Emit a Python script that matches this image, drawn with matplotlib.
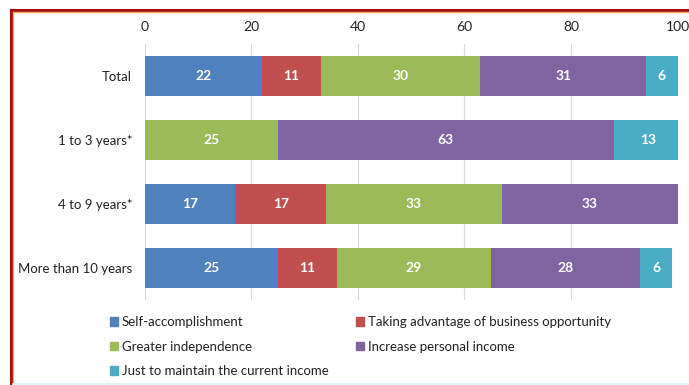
import matplotlib.pyplot as plt
from matplotlib.patches import Patch
from matplotlib.lines import Line2D

plt.rcParams['font.family'] = ['Lato', 'DejaVu Sans']

groups = ["Total", "1 to 3 years*", "4 to 9 years*", "More than 10 years"]
series_names = [
    "Self-accomplishment",
    "Taking advantage of business opportunity",
    "Greater independence",
    "Increase personal income",
    "Just to maintain the current income",
]
self_accomplishment = [22, 0, 17, 25]
business_opportunity = [11, 0, 17, 11]
greater_independence = [30, 25, 33, 29]
personal_income = [31, 63, 33, 28]
maintain_income = [6, 13, 0, 6]
x_ticks = [0, 20, 40, 60, 80, 100]

series = [self_accomplishment, business_opportunity, greater_independence,
          personal_income, maintain_income]
colors = ["#4F81BD", "#C0504D", "#9BBB59", "#8064A2", "#4BACC6"]

fig = plt.figure(figsize=(6.89, 3.85), dpi=100)
ax = fig.add_axes([0.210, 0.221, 0.7736, 0.665])

y = list(range(len(groups)))
left = [0.0] * len(groups)
for vals, col, name in zip(series, colors, series_names):
    bars = ax.barh(y, vals, left=left, height=0.62, color=col, label=name, zorder=3)
    for b, v in zip(bars, vals):
        if v > 0:
            ax.text(b.get_x() + b.get_width() / 2, b.get_y() + b.get_height() / 2,
                    f"{v}", ha="center", va="center", color="white",
                    fontsize=10, fontweight="bold", zorder=4)
    left = [l + v for l, v in zip(left, vals)]

ax.set_xlim(0, 100)
ax.set_ylim(len(groups) - 0.5, -0.5)
ax.set_yticks(y)
ax.set_yticklabels(groups, fontsize=9.5, color="#222222")
ax.set_xticks(x_ticks)
ax.xaxis.tick_top()
ax.tick_params(axis="x", length=0, labelsize=10, labelcolor="#222222", pad=8)
ax.tick_params(axis="y", length=0, pad=9)
ax.grid(axis="x", color="#D9D9D9", linewidth=0.8, zorder=0)
for s in ax.spines.values():
    s.set_visible(False)

handles = [Patch(color=c) for c in colors]
order = [0, 2, 4, 1, 3]
fig.legend([handles[i] for i in order], [series_names[i] for i in order],
           ncol=2, loc="upper left", bbox_to_anchor=(0.142, 0.21),
           frameon=False, fontsize=9.5, handlelength=0.6, handleheight=0.6,
           handletextpad=0.3, columnspacing=2.1, labelspacing=0.95,
           labelcolor="#222222")

# frame around the figure
W, H = 689.0, 385.0
fig.add_artist(Line2D([11 / W, 1], [1 - 9.5 / H, 1 - 9.5 / H], color="#A50F0F", lw=2.2,
                      transform=fig.transFigure))
fig.add_artist(Line2D([13 / W, 1], [1 - 11.5 / H, 1 - 11.5 / H], color="#F4A460", lw=1.0,
                      transform=fig.transFigure))
fig.add_artist(Line2D([11 / W, 11 / W], [0, 1 - 9.5 / H], color="#A50F0F", lw=2.2,
                      transform=fig.transFigure))
fig.add_artist(Line2D([13 / W, 13 / W], [0, 1 - 11.5 / H], color="#F4A460", lw=1.0,
                      transform=fig.transFigure))
fig.add_artist(Line2D([13 / W, 1], [1.5 / H, 1.5 / H], color="#DDF3F8", lw=2.0,
                      transform=fig.transFigure))

fig.savefig("out.png", dpi=100)
